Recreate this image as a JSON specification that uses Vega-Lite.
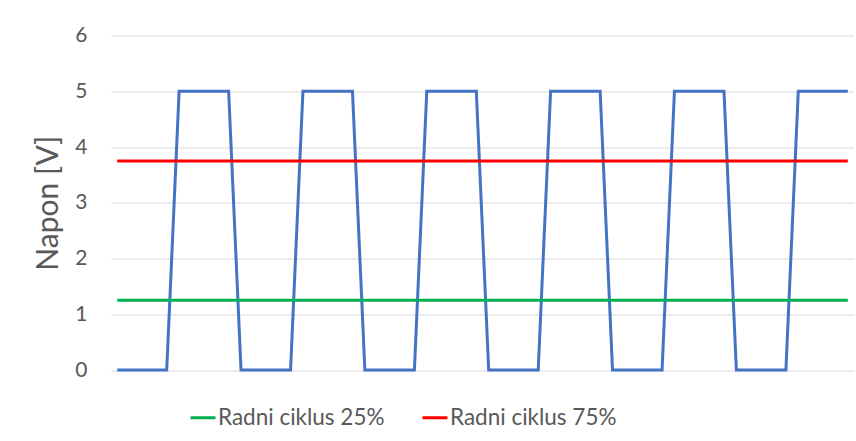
{
  "$schema": "https://vega.github.io/schema/vega-lite/v6.json",
  "width": 743,
  "height": 334.5,
  "autosize": {"type": "none"},
  "padding": {"left": 111, "top": 35.5, "right": 2, "bottom": 71},
  "background": "white",
  "config": {"view": {"stroke": null}, "font": "Lato"},
  "data": {"values": [
    {"x":0,"V":0,"s":"Signal"},{"x":1,"V":0,"s":"Signal"},{"x":2,"V":0,"s":"Signal"},{"x":3,"V":0,"s":"Signal"},{"x":4,"V":0,"s":"Signal"},
    {"x":5,"V":5,"s":"Signal"},{"x":6,"V":5,"s":"Signal"},{"x":7,"V":5,"s":"Signal"},{"x":8,"V":5,"s":"Signal"},{"x":9,"V":5,"s":"Signal"},
    {"x":10,"V":0,"s":"Signal"},{"x":11,"V":0,"s":"Signal"},{"x":12,"V":0,"s":"Signal"},{"x":13,"V":0,"s":"Signal"},{"x":14,"V":0,"s":"Signal"},
    {"x":15,"V":5,"s":"Signal"},{"x":16,"V":5,"s":"Signal"},{"x":17,"V":5,"s":"Signal"},{"x":18,"V":5,"s":"Signal"},{"x":19,"V":5,"s":"Signal"},
    {"x":20,"V":0,"s":"Signal"},{"x":21,"V":0,"s":"Signal"},{"x":22,"V":0,"s":"Signal"},{"x":23,"V":0,"s":"Signal"},{"x":24,"V":0,"s":"Signal"},
    {"x":25,"V":5,"s":"Signal"},{"x":26,"V":5,"s":"Signal"},{"x":27,"V":5,"s":"Signal"},{"x":28,"V":5,"s":"Signal"},{"x":29,"V":5,"s":"Signal"},
    {"x":30,"V":0,"s":"Signal"},{"x":31,"V":0,"s":"Signal"},{"x":32,"V":0,"s":"Signal"},{"x":33,"V":0,"s":"Signal"},{"x":34,"V":0,"s":"Signal"},
    {"x":35,"V":5,"s":"Signal"},{"x":36,"V":5,"s":"Signal"},{"x":37,"V":5,"s":"Signal"},{"x":38,"V":5,"s":"Signal"},{"x":39,"V":5,"s":"Signal"},
    {"x":40,"V":0,"s":"Signal"},{"x":41,"V":0,"s":"Signal"},{"x":42,"V":0,"s":"Signal"},{"x":43,"V":0,"s":"Signal"},{"x":44,"V":0,"s":"Signal"},
    {"x":45,"V":5,"s":"Signal"},{"x":46,"V":5,"s":"Signal"},{"x":47,"V":5,"s":"Signal"},{"x":48,"V":5,"s":"Signal"},{"x":49,"V":5,"s":"Signal"},
    {"x":50,"V":0,"s":"Signal"},{"x":51,"V":0,"s":"Signal"},{"x":52,"V":0,"s":"Signal"},{"x":53,"V":0,"s":"Signal"},{"x":54,"V":0,"s":"Signal"},
    {"x":55,"V":5,"s":"Signal"},{"x":56,"V":5,"s":"Signal"},{"x":57,"V":5,"s":"Signal"},{"x":58,"V":5,"s":"Signal"},{"x":59,"V":5,"s":"Signal"},
    {"x":0,"V":1.25,"s":"Radni ciklus 25%"},{"x":59,"V":1.25,"s":"Radni ciklus 25%"},
    {"x":0,"V":3.75,"s":"Radni ciklus 75%"},{"x":59,"V":3.75,"s":"Radni ciklus 75%"}
  ]},
  "mark": {"type": "line", "strokeWidth": 3, "strokeJoin": "miter", "strokeCap": "butt"},
  "encoding": {
    "x": {"field": "x", "type": "quantitative", "scale": {"domain": [-0.5, 59.5], "nice": false, "zero": false}, "axis": null},
    "y": {"field": "V", "type": "quantitative", "scale": {"domain": [0, 6], "nice": false},
      "axis": {"values": [0,1,2,3,4,5,6], "domain": false, "ticks": false, "gridColor": "#D9D9D9", "gridWidth": 1,
        "labelFontSize": 21, "labelColor": "#595959", "labelPadding": 24,
        "title": "Napon [V]", "titleFontSize": 30, "titleFontWeight": "normal", "titleColor": "#595959", "titlePadding": 11}},
    "color": {"field": "s", "type": "nominal",
      "scale": {"domain": ["Signal", "Radni ciklus 25%", "Radni ciklus 75%"], "range": ["#4472C4", "#00B050", "#FF0000"]},
      "legend": {"values": ["Radni ciklus 25%", "Radni ciklus 75%"], "title": null, "orient": "none", "legendX": 78, "legendY": 368,
        "direction": "horizontal", "symbolType": "stroke", "symbolStrokeWidth": 3, "symbolSize": 625,
        "labelFontSize": 22.5, "labelLimit": 400, "labelColor": "#595959", "labelOffset": 1, "columnPadding": 31}},
    "order": {"field": "s", "type": "nominal", "sort": "descending"}
  }
}
